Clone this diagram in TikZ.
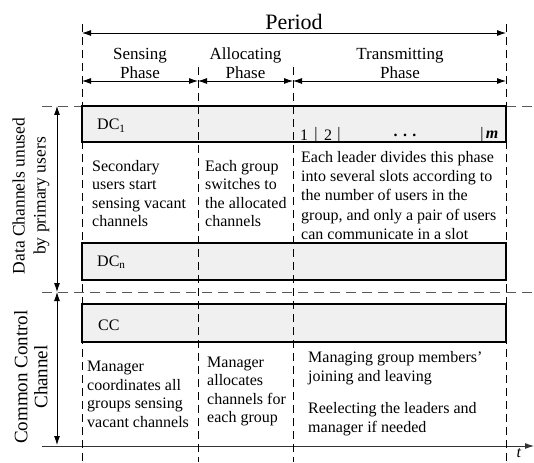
\documentclass[tikz,border=0pt]{standalone}
\usepackage{fontspec}
\setmainfont{Liberation Serif}
\usetikzlibrary{arrows.meta}

\begin{document}
\begin{tikzpicture}[x=1pt,y=-1pt,>={Latex[length=9pt,width=6pt]},
	gridline/.style={dash pattern=on 8pt off 5pt,line width=0.7pt},
	sepline/.style={dash pattern=on 10pt off 6pt,line width=0.9pt,gray!70!black},
	chanbox/.style={draw,line width=1.3pt,fill=gray!12},
	note/.style={align=left,anchor=west,inner sep=0pt,font=\fontsize{16}{18.5}\selectfont},
	phaselab/.style={align=center,inner sep=0pt,font=\fontsize{17}{19}\selectfont},
	sidelab/.style={align=center,inner sep=0pt,rotate=90},
	small/.style={inner sep=0pt,font=\fontsize{16}{18}\selectfont}]
	\useasboundingbox (0,0) rectangle (534,462);

	% coordinates of the time grid
	\coordinate (tl) at (82,24);  \coordinate (bl) at (82,462);
	\coordinate (t1) at (198,67); \coordinate (b1) at (198,462);
	\coordinate (t2) at (293,67); \coordinate (b2) at (293,462);
	\coordinate (tr) at (506,24); \coordinate (br) at (506,462);
	\coordinate (pl) at (82,33);  \coordinate (pr) at (506,33);
	\coordinate (s0) at (82,81);  \coordinate (s1) at (198,81);
	\coordinate (s2) at (293,81); \coordinate (s3) at (506,81);
	\coordinate (h1l) at (42,106); \coordinate (h1r) at (534,106);
	\coordinate (h2l) at (42,292); \coordinate (h2r) at (534,292);
	\coordinate (ax0) at (42,446); \coordinate (ax1) at (534,446);
	\coordinate (v0) at (57,106); \coordinate (v1) at (57,292); \coordinate (v2) at (57,445);

	% separators and channel bars
	\draw[sepline] (h1l) -- (h1r);
	\draw[sepline] (h2l) -- (h2r);
	\draw[chanbox] (82,106) rectangle (506,142);
	\draw[chanbox] (82,243) rectangle (506,280);
	\draw[chanbox] (82,304) rectangle (506,342);
	\draw[line width=0.9pt,gray!40!black,->] (ax0) -- (ax1);

	% vertical phase borders
	\draw[gridline] (tl) -- (bl);
	\draw[gridline] (t1) -- (b1);
	\draw[gridline] (t2) -- (b2);
	\draw[gridline] (tr) -- (br);

	% period and phases
	\node[inner sep=0pt,font=\fontsize{22}{24}\selectfont] (period) at (294,22) {Period};
	\draw[<->,line width=0.8pt] (pl) -- (pr);
	\draw[<->,line width=0.8pt] (s0) -- (s1);
	\draw[<->,line width=0.8pt] (s1) -- (s2);
	\draw[<->,line width=0.8pt] (s2) -- (s3);
	\node[phaselab] (sensing) at (140,63.5) {Sensing\\Phase};
	\node[phaselab] (allocating) at (245.5,63.5) {Allocating\\Phase};
	\node[phaselab] (transmitting) at (400,63.5) {Transmitting\\Phase};

	% side labels
	\draw[<->,line width=0.8pt] (v0) -- (v1);
	\draw[<->,line width=0.8pt] (v1) -- (v2);
	\node[sidelab,font=\fontsize{17.5}{21}\selectfont] (dclab) at (31,196) {Data Channels unused\\by primary users};
	\node[sidelab,font=\fontsize{19}{20}\selectfont] (cclab) at (31,377) {Common Control\\Channel};

	% channel names and slots
	\node[small,anchor=west] (dc1) at (97,126) {DC\textsubscript{1}};
	\node[small,anchor=west] (dcn) at (97,262) {DC\textsubscript{n}};
	\node[small,anchor=west] (cc) at (98,325) {CC};
	\node[small] (slot1) at (304,135) {1};
	\node[small] (bar1) at (316,135) {|};
	\node[small] (slot2) at (328,135) {2};
	\node[small] (bar2) at (339,135) {|};
	\node[small] (slotdots) at (405,135) {\textbf{.\,\,.\,\,.}};
	\node[small] (bar3) at (482,135) {|};
	\node[small] (slotm) at (492,135) {\textit{\textbf{m}}};

	% phase descriptions
	\node[note] (senseDC) at (92,193.5) {Secondary\\users start\\sensing vacant\\channels};
	\node[note] (allocDC) at (205,193.5) {Each group\\switches to\\the allocated\\channels};
	\node[note,font=\fontsize{16}{19.2}\selectfont] (transDC) at (301,195.5) {Each leader divides this phase\\into several slots according to\\the number of users in the\\group, and only a pair of users\\can communicate in a slot};
	\node[note] (senseCC) at (87,394.5) {Manager\\coordinates all\\groups sensing\\vacant channels};
	\node[note] (allocCC) at (207,391.5) {Manager\\allocates\\channels for\\each group};
	\node[note] (manageCC) at (308,368) {Managing group members'\\joining and leaving};
	\node[note] (electCC) at (308,419) {Reelecting the leaders and\\manager if needed};
	\node[small] (tlab) at (519,453) {\textit{t}};
\end{tikzpicture}
\end{document}
